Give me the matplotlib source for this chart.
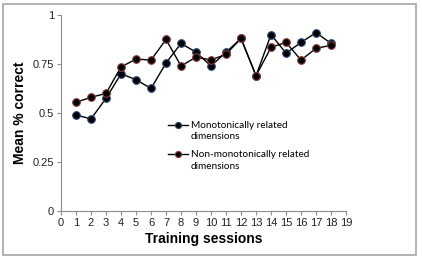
import matplotlib
matplotlib.use("Agg")
import matplotlib.pyplot as plt
from matplotlib.patches import Rectangle
from matplotlib.legend_handler import HandlerLine2D

sessions = list(range(1, 19))
mono = [0.49, 0.47, 0.575, 0.70, 0.67, 0.625, 0.755, 0.855, 0.81, 0.74,
        0.81, 0.88, 0.69, 0.90, 0.805, 0.86, 0.91, 0.855]
nonmono = [0.555, 0.58, 0.60, 0.735, 0.775, 0.77, 0.875, 0.74, 0.785, 0.77,
           0.80, 0.88, 0.69, 0.835, 0.86, 0.77, 0.83, 0.845]
xticks = list(range(0, 20))
yticks = [0, 0.25, 0.5, 0.75, 1]
ytick_labels = ["0", "0.25", "0.5", "0.75", "1"]

plt.rcParams['font.family'] = ['Liberation Sans', 'DejaVu Sans']


class TopLineHandler(HandlerLine2D):
    def __init__(self, dy=4.5, **kw):
        super().__init__(**kw)
        self.dy = dy

    def create_artists(self, legend, orig_handle, xdescent, ydescent,
                       width, height, fontsize, trans):
        artists = super().create_artists(legend, orig_handle, xdescent, ydescent,
                                         width, height, fontsize, trans)
        for a in artists:
            y = a.get_ydata()
            a.set_ydata([v + self.dy for v in y])
        return artists


fig = plt.figure(figsize=(4.22, 2.58), dpi=100)
fig.patches.append(Rectangle((0.008, 0.01), 0.978, 0.975, transform=fig.transFigure,
                             fill=False, edgecolor='#a6a6a6', linewidth=1.2))
ax = fig.add_axes([0.1446, 0.182, 0.6754, 0.76])

l1, = ax.plot(sessions, mono, color='black', lw=1.0, marker='o', markersize=5.5,
              markerfacecolor='black', markeredgecolor='#2e4a78', markeredgewidth=0.8,
              label='Monotonically related\ndimensions')
l2, = ax.plot(sessions, nonmono, color='black', lw=1.0, marker='o', markersize=5.5,
              markerfacecolor='black', markeredgecolor='#8c3a3a', markeredgewidth=0.8,
              label='Non-monotonically related\ndimensions')

ax.set_xlim(0, 19)
ax.set_ylim(0, 1)
ax.set_xticks(xticks)
ax.set_xticklabels([str(t) for t in xticks], fontsize=8)
ax.set_yticks(yticks)
ax.set_yticklabels(ytick_labels, fontsize=8)
for s in ['top', 'right']:
    ax.spines[s].set_visible(False)
for s in ['left', 'bottom']:
    ax.spines[s].set_color('#8c8c8c')
    ax.spines[s].set_linewidth(0.8)
ax.tick_params(axis='both', color='#8c8c8c', length=3, width=0.8, pad=2, labelcolor='#222222')

ax.set_xlabel('Training sessions', fontsize=10, fontweight='bold', labelpad=3)
ax.set_ylabel('Mean % correct', fontsize=10, fontweight='bold', labelpad=4)

leg = ax.legend(loc='upper left', bbox_to_anchor=(0.36, 0.48), frameon=False,
                prop={'family': ['Lato', 'DejaVu Sans'], 'size': 7.2},
                handlelength=2.0, handletextpad=0.3, labelspacing=0.9,
                markerscale=0.8, borderaxespad=0,
                handler_map={l1: TopLineHandler(), l2: TopLineHandler()})
for t in leg.get_texts():
    t.set_linespacing(1.35)

fig.savefig('out.png', dpi=100)
